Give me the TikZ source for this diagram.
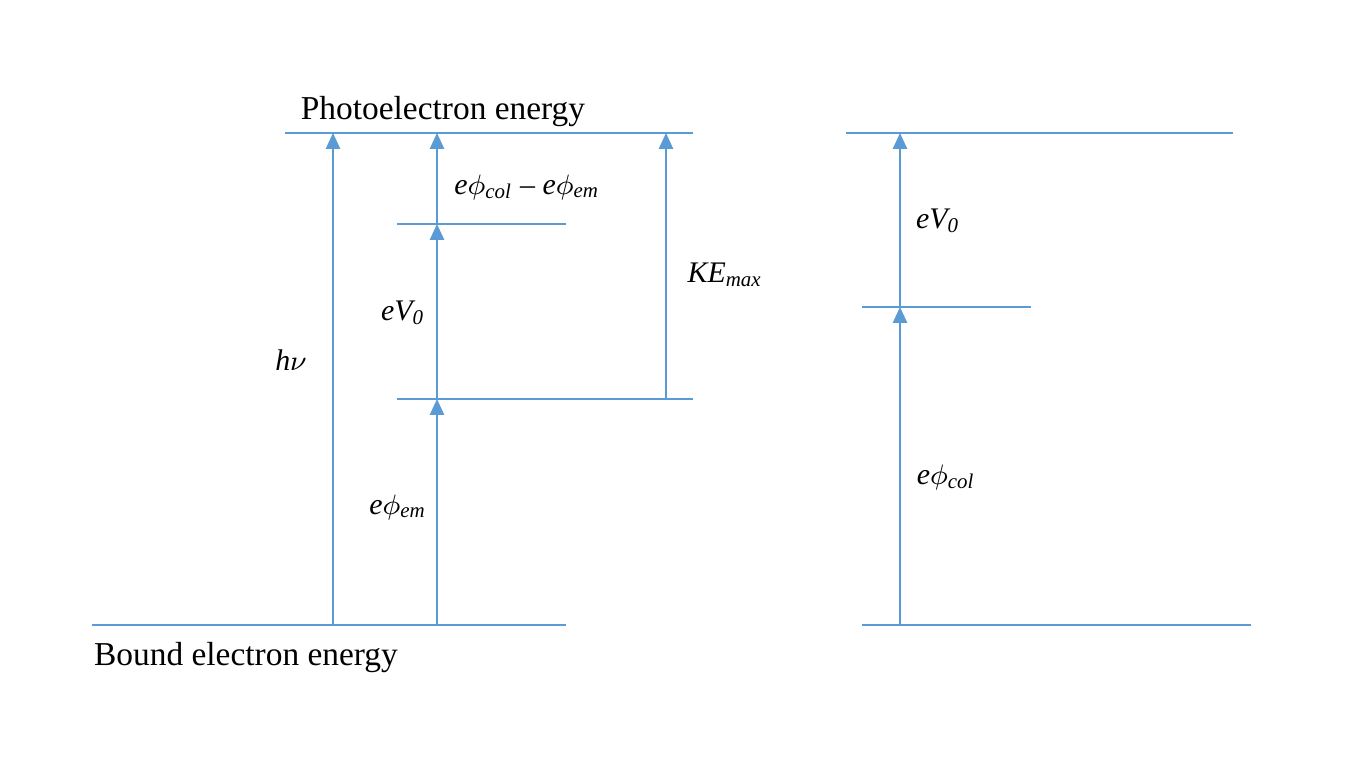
\documentclass[tikz,border=0pt]{standalone}
\usepackage{fontspec}
\setmainfont{Liberation Serif}
\usetikzlibrary{arrows.meta}
\definecolor{ln}{RGB}{91,155,213}
\begin{document}
\begin{tikzpicture}[x=0.01cm,y=-0.01cm,
  lvl/.style={ln,line width=0.5pt},
  ar/.style={ln,line width=0.6pt,-{Triangle[length=4.5pt,width=4pt]}},
  lb/.style={font=\fontsize{8.5}{10}\selectfont\itshape,inner sep=0pt}]
\useasboundingbox (0,0) rectangle (1366,768);
\draw[lvl] (285,133) -- (693,133);
\draw[lvl] (846,133) -- (1233,133);
\draw[lvl] (397,224) -- (566,224);
\draw[lvl] (397,399) -- (693,399);
\draw[lvl] (862,307) -- (1031,307);
\draw[lvl] (92,625) -- (566,625);
\draw[lvl] (862,625) -- (1251,625);
\coordinate (a0) at (333,625); \coordinate (a1) at (333,133);
\coordinate (b0) at (437,625); \coordinate (b1) at (437,399);
\coordinate (b2) at (437,224); \coordinate (b3) at (437,133);
\coordinate (c0) at (666,399); \coordinate (c1) at (666,133);
\coordinate (d0) at (900,625); \coordinate (d1) at (900,307); \coordinate (d2) at (900,133);
\draw[ar] (a0) -- (a1);
\draw[ar] (b0) -- (b1);
\draw[ar] (b1) -- (b2);
\draw[ar] (b2) -- (b3);
\draw[ar] (c0) -- (c1);
\draw[ar] (d0) -- (d1);
\draw[ar] (d1) -- (d2);
\node[lb,font=\fontsize{9.5}{11}\selectfont] (pe) at (443,112) {Photoelectron energy};
\node[lb,font=\fontsize{9.5}{11}\selectfont] (be) at (246,658) {Bound electron energy};
\node[lb] (hn) at (291,360) {h$\nu$};
\node[lb] (v0) at (403,313) {eV\textsubscript{0}};
\node[lb] (em) at (398,507) {e$\phi$\textsubscript{em}};
\node[lb] (ce) at (527,187) {e$\phi$\textsubscript{col} \upshape{–} \itshape e$\phi$\textsubscript{em}};
\node[lb] (ke) at (725,275) {KE\textsubscript{max}};
\node[lb] (v0r) at (938,221) {eV\textsubscript{0}};
\node[lb] (col) at (946,477) {e$\phi$\textsubscript{col}};
\end{tikzpicture}
\end{document}
